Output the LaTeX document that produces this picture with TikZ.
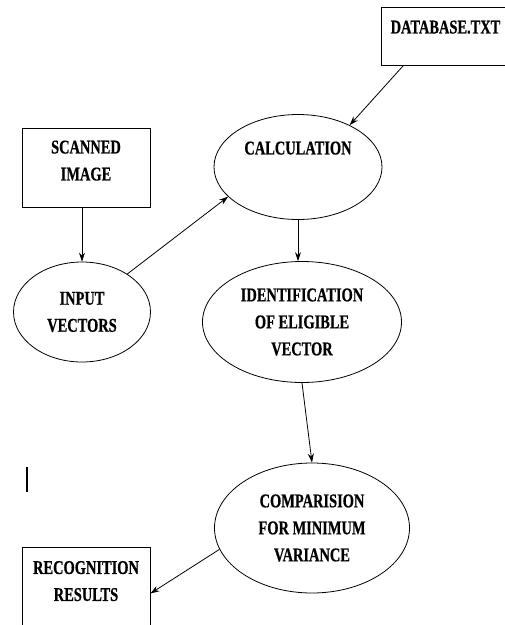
\documentclass[tikz,border=0pt]{standalone}
\usepackage{fontspec}
\setmainfont{Liberation Serif}[FakeStretch=0.74, BoldFeatures={FakeBold=0.6}]
\usetikzlibrary{shapes.geometric,arrows.meta}

\begin{document}
\begin{tikzpicture}[
        x=1pt, y=-1pt,
        every node/.style={font=\fontsize{19.5}{27}\selectfont\bfseries, align=center, inner sep=0pt, draw, line width=0.8pt},
        oval/.style={ellipse},
        box/.style={rectangle},
        flow/.style={line width=0.8pt, -{Stealth[length=9pt,width=6pt]}}
    ]
        \useasboundingbox (0,0) rectangle (505,625);

        \node[box, minimum width=129pt, minimum height=58pt, text depth=18pt] (db) at (445.5,36) {DATABASE.TXT};
        \node[oval, minimum width=168pt, minimum height=105pt, text depth=38pt] (calc) at (298,167) {CALCULATION};
        \node[box, minimum width=128pt, minimum height=79pt, text depth=14pt] (scan) at (86,167.5) {SCANNED\\IMAGE};
        \node[oval, minimum width=137pt, minimum height=100pt] (inp) at (82,312) {INPUT\\VECTORS};
        \node[oval, minimum width=199pt, minimum height=121pt] (ident) at (302,322) {IDENTIFICATION\\OF ELIGIBLE\\VECTOR};
        \node[oval, minimum width=195pt, minimum height=130pt] (comp) at (312,528) {COMPARISION\\FOR MINIMUM\\VARIANCE};
        \node[box, minimum width=128pt, minimum height=83pt, text depth=15pt] (rec) at (86,588.5) {RECOGNITION\\RESULTS};

        \draw[flow] ([xshift=-42pt]db.south) -- (calc.39);
        \draw[flow] ([xshift=-4pt]scan.south) -- (inp.north);
        \draw[flow] (inp.40) -- (calc.203);
        \draw[flow] (calc.south) -- (calc.south |- ident.north);
        \draw[flow] (ident.south) -- (comp.north);
        \draw[flow] (comp.193) -- ([yshift=-5pt]rec.east);

        \draw[line width=1.3pt] (27,467) -- (27,492);
    \end{tikzpicture}
\end{document}
